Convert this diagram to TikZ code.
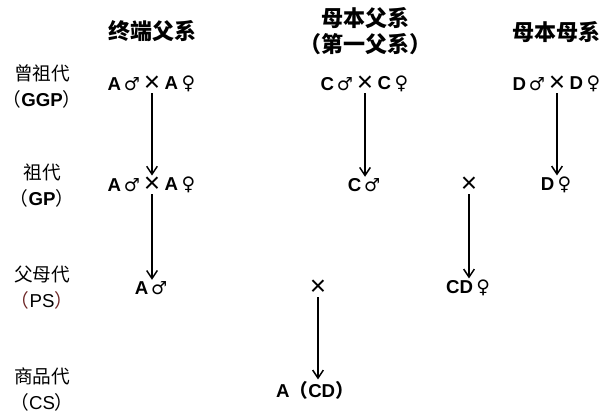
\documentclass[tikz,border=0pt]{standalone}
\usepackage{fontspec}
\setmainfont{Liberation Sans}
\newfontfamily\cjk{Noto Sans CJK SC}
\newfontfamily\sym{DejaVu Sans}
\usetikzlibrary{arrows.meta}
\definecolor{pscol}{RGB}{110,40,40}
\newcommand{\mal}{{\sym\fontsize{13.5}{14}\selectfont ♂}}
\newcommand{\fem}{{\sym\fontsize{14}{14}\selectfont ♀}}
\newcommand{\crs}{{\fontsize{21}{21}\selectfont ×}}
\begin{document}
\begin{tikzpicture}[x=0.75pt,y=-0.75pt,
  head/.style={font=\cjk\bfseries\fontsize{16.5}{19}\selectfont, inner sep=0pt, align=center},
  gen/.style={font=\fontsize{14}{19.5}\selectfont, inner sep=0pt, align=center},
  geno/.style={font=\bfseries\fontsize{14}{16}\selectfont, inner sep=0pt},
  cross/.style={inner sep=0pt},
  arr/.style={-{Straight Barb[length=6pt,width=8pt,line width=1.1pt]}, line width=1.1pt, shorten >=1pt, shorten <=1pt}]
\useasboundingbox (0,0) rectangle (613,417);
% headers
\node[head] (h1) at (152,31) {终端父系};
\node[head] (h2) at (365,31) {母本父系\\[1pt]（第一父系）};
\node[head] (h3) at (556,32) {母本母系};
% generation labels
\node[gen] (g1) at (42,86) {{\cjk 曾祖代}\\{\cjk （}\textbf{GGP}{\cjk ）}};
\node[gen] (g2) at (42,186) {{\cjk 祖代}\\{\cjk （}\textbf{GP}{\cjk ）}};
\node[gen] (g3) at (42,288) {{\cjk 父母代}\\{\cjk\color{pscol}（}PS{\cjk\color{pscol}）}};
\node[gen] (g4) at (42,390) {{\cjk 商品代}\\{\cjk （}CS{\cjk ）}};
% row 1
\node[cross] (xa1) at (152,84) {\crs};
\node[geno,anchor=east] (am1) at (xa1.west) {A\kern2pt\mal\kern2.5pt};
\node[geno,anchor=west] (af1) at (xa1.east) {\kern3pt A\kern2.5pt\fem};
\node[cross] (xc1) at (365,84) {\crs};
\node[geno,anchor=east] (cm1) at (xc1.west) {C\kern2pt\mal\kern2.5pt};
\node[geno,anchor=west] (cf1) at (xc1.east) {\kern3pt C\kern2.5pt\fem};
\node[cross] (xd1) at (557,84) {\crs};
\node[geno,anchor=east] (dm1) at (xd1.west) {D\kern2pt\mal\kern2.5pt};
\node[geno,anchor=west] (df1) at (xd1.east) {\kern3pt D\kern2.5pt\fem};
% row 2
\node[cross] (xa2) at (152,185) {\crs};
\node[geno,anchor=east] (am2) at (xa2.west) {A\kern2pt\mal\kern2.5pt};
\node[geno,anchor=west] (af2) at (xa2.east) {\kern3pt A\kern2.5pt\fem};
\node[geno] (cm2) at (364,185) {C\kern2pt\mal};
\node[cross] (xcd) at (469,185) {\crs};
\node[geno] (df2) at (556,185) {D\kern2.5pt\fem};
% row 3
\node[geno] (am3) at (151,288) {A\kern2pt\mal};
\node[cross] (xcs) at (318,288) {\crs};
\node[geno] (cdf3) at (468,288) {CD\kern2.5pt\fem};
% row 4
\node[geno] (cs) at (315,390) {A{\cjk （}CD{\cjk ）}};
% arrows
\draw[arr] (xa1.south) -- (xa2.north);
\draw[arr] (xc1.south) -- (xc1.south |- cm2.north);
\draw[arr] (xd1.south) -- (xd1.south |- df2.north);
\draw[arr] (xa2.south) -- (xa2.south |- am3.north);
\draw[arr] (xcd.south) -- (xcd.south |- cdf3.north);
\draw[arr] (xcs.south) -- (xcs.south |- cs.north);
\end{tikzpicture}
\end{document}
